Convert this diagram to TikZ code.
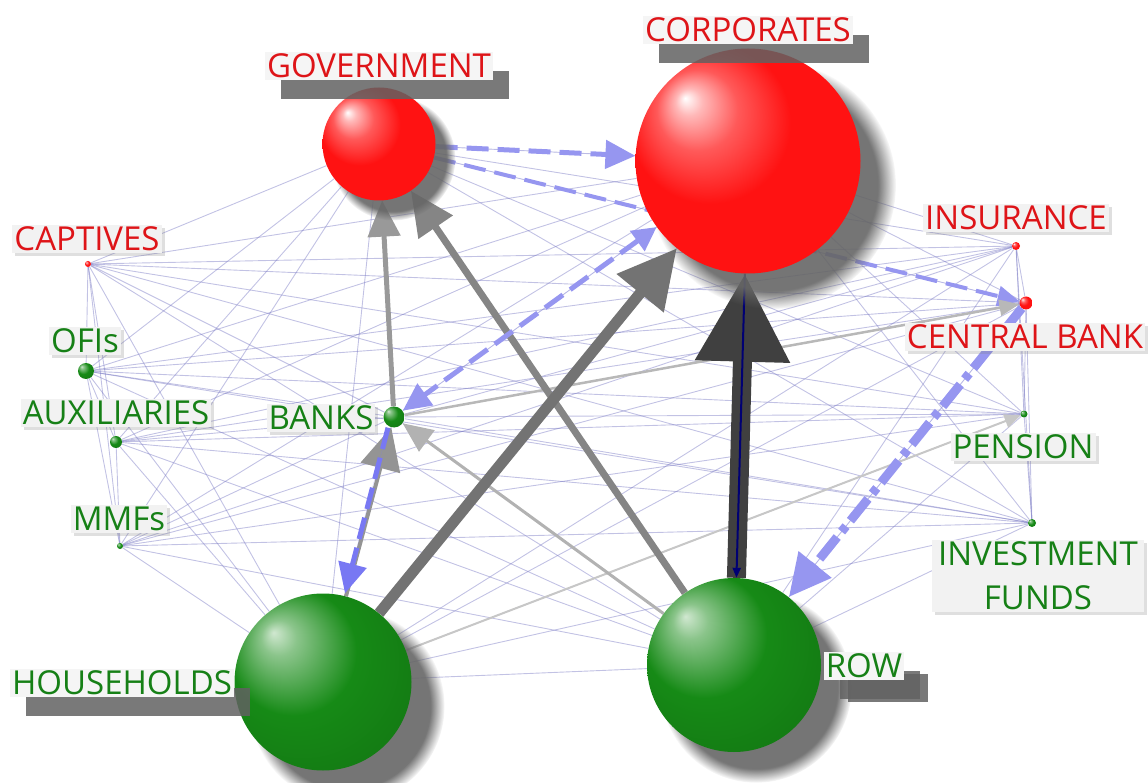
\documentclass[tikz,border=0pt]{standalone}
\usepackage{fontspec}
\setmainfont{Open Sans}
\usetikzlibrary{arrows.meta,shadows,fadings}
\pgfdeclarelayer{bg}
\pgfdeclarelayer{mid}
\pgfsetlayers{bg,mid,main}
\definecolor{lred}{RGB}{222,20,24}
\definecolor{lgreen}{RGB}{22,128,22}
\definecolor{ballred}{RGB}{255,18,18}
\definecolor{ballgreen}{RGB}{22,138,22}
\definecolor{edgeblue}{RGB}{120,120,195}
\definecolor{dashblue}{RGB}{150,150,240}
\pgfdeclareradialshading{redsph}{\pgfpoint{-14bp}{14bp}}{color(0bp)=(white); color(3bp)=(white!70!ballred); color(9bp)=(white!30!ballred); color(18bp)=(ballred); color(36bp)=(ballred); color(46bp)=(ballred!88!black)}
\pgfdeclareradialshading{greensph}{\pgfpoint{-14bp}{14bp}}{color(0bp)=(white!80!ballgreen); color(5bp)=(white!50!ballgreen); color(18bp)=(ballgreen); color(34bp)=(ballgreen!88!black); color(46bp)=(ballgreen!75!black)}
\newcommand{\labfont}{\fontsize{33}{38}\selectfont}
\tikzset{
  redball/.style={circle, inner sep=0pt, shading=redsph},
  greenball/.style={circle, inner sep=0pt, shading=greensph},
  bigshadow/.style={circular drop shadow={shadow xshift=#1, shadow yshift=-#1, opacity=0.9, fill=black!60}},
  lab/.style={fill=black!5, inner sep=2pt, font=\labfont,
    drop shadow={shadow xshift=3pt, shadow yshift=-3pt, opacity=0.25}},
  biglab/.style={fill=black!4, inner sep=2pt, font=\labfont,
    drop shadow={shadow xshift=16pt, shadow yshift=-19pt, fill=black!62, opacity=0.85}},
  thinedge/.style={draw=edgeblue, line width=0.9pt, opacity=0.45},
  grayarrow/.style={draw=black!#1, fill=black!#1},
  bluedash/.style={draw=dashblue, fill=dashblue, dash pattern=on 22pt off 9pt}
}
\begin{document}
\begin{tikzpicture}[x=1pt,y=-1pt]
\useasboundingbox (0,0) rectangle (1148,783);
% spheres and points
\node[redball, minimum size=113pt, bigshadow=13pt] (gov) at (379,144) {};
\node[redball, minimum size=225pt, bigshadow=22pt] (corp) at (748,161) {};
\node[greenball, minimum size=177pt, bigshadow=22pt] (hh) at (323,682) {};
\node[greenball, minimum size=174pt, bigshadow=20pt] (row) at (734,665) {};
\node[greenball, minimum size=21pt] (banks) at (394,417) {};
\node[greenball, minimum size=16pt] (ofi) at (86,371) {};
\node[greenball, minimum size=12pt] (aux) at (116,442) {};
\node[greenball, minimum size=6pt] (mmf) at (120,546) {};
\node[redball, minimum size=6pt] (capt) at (88,264) {};
\node[redball, minimum size=8pt] (ins) at (1016,246) {};
\node[redball, minimum size=13pt] (cb) at (1026,303) {};
\node[greenball, minimum size=7pt] (pen) at (1024,414) {};
\node[greenball, minimum size=8pt] (inv) at (1032,523) {};
% labels
\node[biglab, text=lred] (lgov) at (379,66) {GOVERNMENT};
\node[biglab, text=lred] (lcorp) at (748,30) {CORPORATES};
\node[lab, text=lred] (lcapt) at (87,239) {CAPTIVES};
\node[lab, text=lgreen] (lofi) at (85,341) {OFIs};
\node[lab, text=lgreen] (laux) at (116,413) {AUXILIARIES};
\node[lab, text=lgreen] (lmmf) at (119,519) {MMFs};
\node[lab, text=lred] (lins) at (1016,218) {INSURANCE};
\node[lab, text=lred] (lcb) at (1025,337) {CENTRAL BANK};
\node[lab, text=lgreen] (lpen) at (1023,447) {PENSION};
\node[lab, text=lgreen, align=center, font=\fontsize{33}{44}\selectfont, minimum width=212pt] (linv) at (1038,576) {INVESTMENT\\FUNDS};
\node[biglab, text=lgreen] (lhh) at (122,683) {HOUSEHOLDS};
\node[lab, text=lgreen] (lbanks) at (321,418) {BANKS};
\node[biglab, text=lgreen, drop shadow={shadow xshift=24pt, shadow yshift=-22pt, fill=black!62, opacity=0.85}] (lrow) at (864,666) {ROW};
% thin background edges
\begin{pgfonlayer}{bg}
\foreach \a [count=\i] in {gov,corp,capt,ofi,aux,mmf,ins,cb,pen,inv,hh,row,banks} {
  \foreach \b [count=\j] in {gov,corp,capt,ofi,aux,mmf,ins,cb,pen,inv,hh,row,banks} {
    \ifnum\j>\i
      \draw[thinedge] (\a) -- (\b);
    \fi
  }
}
\draw[bluedash, line width=4pt, -{Triangle[width=20pt,length=22pt]}] (gov) -- (cb);
\end{pgfonlayer}
% major edges
\begin{pgfonlayer}{mid}
\draw[grayarrow=28, line width=2.5pt, -{Triangle[width=16pt,length=20pt]}] (banks) -- (cb);
\draw[grayarrow=22, line width=2pt, -{Triangle[width=14pt,length=16pt]}] (hh) -- (pen);
\draw[grayarrow=30, line width=3pt, -{Triangle[width=26pt,length=30pt]}] (row) -- (banks);
\draw[grayarrow=40, line width=5pt, -{Triangle[width=32pt,length=36pt]}] (banks) -- (gov);
\draw[grayarrow=48, line width=7pt, -{Triangle[width=40pt,length=44pt]}] (row) -- (gov);
\draw[grayarrow=42, line width=4pt, -{Triangle[width=40pt,length=42pt]}] (hh) -- (banks);
\draw[bluedash, line width=5pt, {Triangle[width=24pt,length=24pt]}-{Triangle[width=26pt,length=28pt]}] (corp) -- (banks);
\draw[draw=dashblue!80!blue, fill=dashblue!80!blue, line width=5pt, dash pattern=on 22pt off 9pt, -{Triangle[width=28pt,length=30pt]}] ([xshift=-6pt]banks.south) -- ([xshift=22pt]hh.north);
\draw[bluedash, line width=5pt, -{Triangle[width=28pt,length=30pt]}] (gov) -- (corp);
\draw[grayarrow=55, line width=11pt, -{Triangle[width=58pt,length=58pt]}] (hh) -- (corp);
\draw[draw=black!75, fill=black!75, line width=19pt, -{Triangle[width=90pt,length=88pt]}] (row) -- (corp);
\draw[draw=blue!45!black, fill=blue!45!black, line width=2pt, -{Triangle[width=8pt,length=10pt]}] (corp) -- (row);
\draw[draw=dashblue, fill=dashblue, line width=9pt, dash pattern=on 28pt off 7pt on 7pt off 7pt, -{Triangle[width=40pt,length=42pt]}] (cb) -- (row);
\end{pgfonlayer}
\end{tikzpicture}
\end{document}
